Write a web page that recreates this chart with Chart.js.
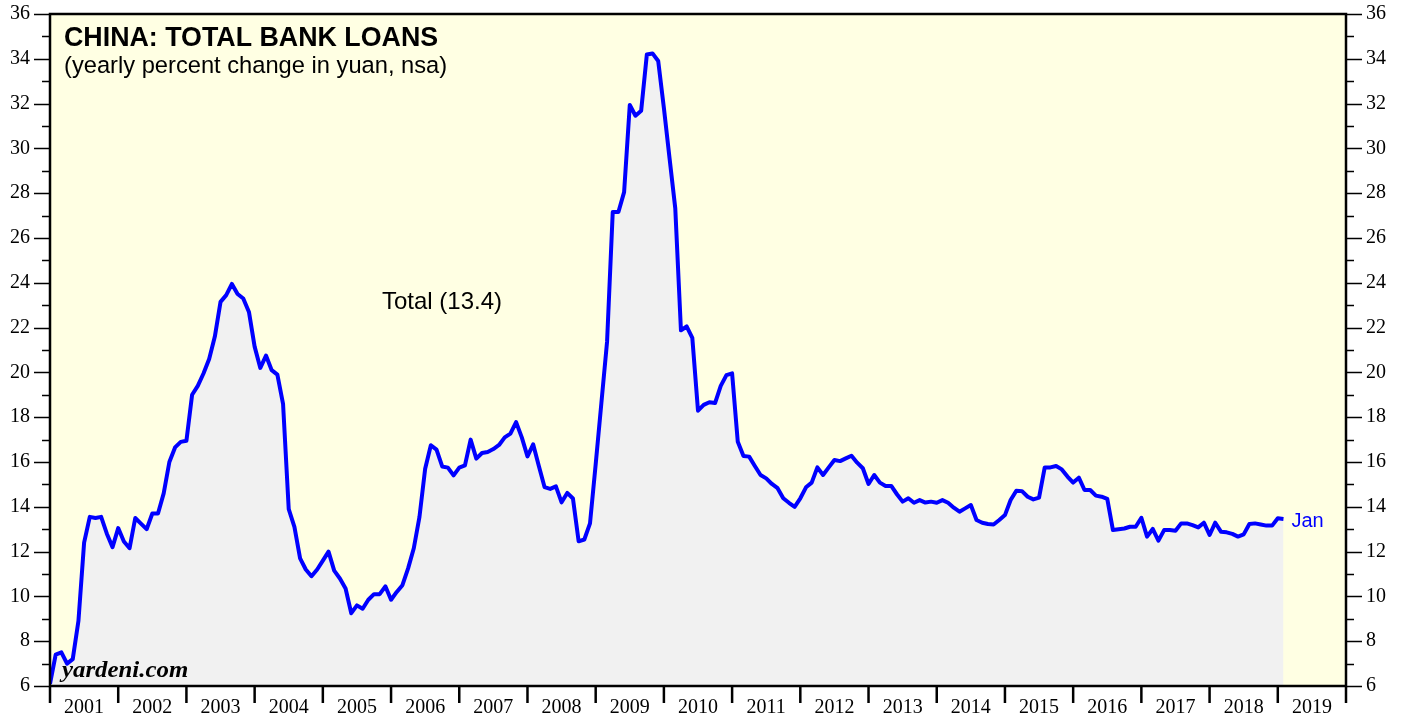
<!DOCTYPE html>
<html>
<head>
<meta charset="utf-8">
<title>China: Total Bank Loans</title>
<script src="https://cdn.jsdelivr.net/npm/chart.js@4.4.1/dist/chart.umd.min.js"></script>
<style>
    html, body { margin: 0; padding: 0; background: #ffffff; }
    #wrap { width: 1405px; height: 717px; position: relative; }
</style>
</head>
<body>
<div id="wrap"><canvas id="loans-chart"></canvas></div>
<script>
// --- DATA ---
const yearLabels = ['2001', '2002', '2003', '2004', '2005', '2006', '2007', '2008', '2009', '2010',
    '2011', '2012', '2013', '2014', '2015', '2016', '2017', '2018', '2019'];

// monthly readings, Dec 2000 .. Jan 2019 (yearly % change in yuan)
const loanGrowth = [
    6.1, 7.4, 7.5, 7.0, 7.2, 8.9, 12.4, 13.55, 13.5, 13.55, 12.8, 12.2,
    13.05, 12.45, 12.15, 13.5, 13.25, 13.0, 13.7, 13.7, 14.6, 16.0, 16.65, 16.9,
    16.95, 19.0, 19.4, 19.95, 20.6, 21.6, 23.15, 23.45, 23.95, 23.5, 23.3, 22.7,
    21.15, 20.2, 20.75, 20.1, 19.9, 18.6, 13.9, 13.1, 11.7, 11.2, 10.9, 11.2,
    11.6, 12.0, 11.15, 10.8, 10.35, 9.25, 9.6, 9.45, 9.85, 10.1, 10.1, 10.45,
    9.85, 10.2, 10.5, 11.25, 12.15, 13.55, 15.7, 16.75, 16.55, 15.8, 15.75, 15.4,
    15.75, 15.85, 17.0, 16.15, 16.4, 16.45, 16.58, 16.76, 17.1, 17.27, 17.78, 17.1,
    16.25, 16.79, 15.82, 14.88, 14.8, 14.91, 14.2, 14.62, 14.37, 12.46, 12.54, 13.26,
    15.9, 18.63, 21.36, 27.16, 27.16, 28.05, 31.94, 31.46, 31.68, 34.19, 34.24, 33.9,
    31.8, 29.55, 27.33, 21.88, 22.05, 21.54, 18.29, 18.55, 18.67, 18.63, 19.4, 19.88,
    19.96, 16.9, 16.27, 16.24, 15.82, 15.42, 15.27, 15.02, 14.83, 14.38, 14.18, 14.0,
    14.38, 14.87, 15.08, 15.76, 15.42, 15.76, 16.09, 16.04, 16.16, 16.28, 15.97, 15.72,
    15.02, 15.42, 15.08, 14.93, 14.93, 14.56, 14.23, 14.38, 14.18, 14.3, 14.19, 14.23,
    14.18, 14.3, 14.18, 13.96, 13.78, 13.93, 14.08, 13.41, 13.29, 13.23, 13.21, 13.41,
    13.63, 14.3, 14.72, 14.7, 14.45, 14.33, 14.41, 15.76, 15.76, 15.82, 15.67, 15.35,
    15.08, 15.3, 14.75, 14.75, 14.5, 14.45, 14.35, 12.96, 13.0, 13.03, 13.11, 13.11,
    13.51, 12.67, 13.01, 12.49, 12.96, 12.96, 12.93, 13.26, 13.26, 13.18, 13.08, 13.29,
    12.74, 13.29, 12.89, 12.86, 12.79, 12.67, 12.77, 13.23, 13.26, 13.21, 13.16, 13.16,
    13.49, 13.46
];

const seriesLabel = 'Total (13.4)';
const lastPointLabel = 'Jan';
const yMin = 6;
const yMax = 36;

// --- STYLE ---
const serif = "'Liberation Serif', 'Times New Roman', serif";
const sans = "'Liberation Sans', Arial, sans-serif";
const monthsPerYear = 12;
const xMax = yearLabels.length * monthsPerYear;

// Background, frame, tick marks and annotations
const framePlugin = {
    id: 'frame',
    beforeDatasetsDraw(chart) {
        const { ctx, chartArea: a } = chart;
        ctx.save();
        ctx.fillStyle = '#ffffe3';
        ctx.fillRect(a.left, a.top, a.right - a.left, a.bottom - a.top);
        ctx.restore();
    },
    afterDatasetsDraw(chart) {
        const { ctx, chartArea: a, scales } = chart;
        const xs = scales.x;
        const ys = scales.y;
        ctx.save();
        ctx.strokeStyle = '#000';

        // y ticks on both sides (long on even values)
        ctx.lineWidth = 1.5;
        for (let v = yMin; v <= yMax; v++) {
            const py = Math.round(ys.getPixelForValue(v)) + 0.5;
            const len = v % 2 === 0 ? 16 : 8;
            ctx.beginPath();
            ctx.moveTo(a.left - len, py);
            ctx.lineTo(a.left, py);
            ctx.moveTo(a.right, py);
            ctx.lineTo(a.right + len, py);
            ctx.stroke();
        }

        // year boundaries under the x axis
        ctx.lineWidth = 2.5;
        for (let m = 0; m <= xMax; m += monthsPerYear) {
            const px = xs.getPixelForValue(m);
            ctx.beginPath();
            ctx.moveTo(px, a.bottom);
            ctx.lineTo(px, a.bottom + 17);
            ctx.stroke();
        }

        // plot frame
        ctx.lineWidth = 2.5;
        ctx.strokeRect(a.left, a.top, a.right - a.left, a.bottom - a.top);

        // title block
        ctx.fillStyle = '#000';
        ctx.textBaseline = 'alphabetic';
        ctx.textAlign = 'left';
        ctx.font = `bold 26.8px ${sans}`;
        ctx.fillText('CHINA: TOTAL BANK LOANS', 64, 46);
        ctx.font = `23.7px ${sans}`;
        ctx.fillText('(yearly percent change in yuan, nsa)', 64, 73);

        // series label
        ctx.font = `24px ${sans}`;
        ctx.fillText(seriesLabel, 382, 309);

        // last point label
        const last = loanGrowth.length - 1;
        ctx.fillStyle = '#0000ff';
        ctx.font = `20px ${sans}`;
        ctx.fillText(lastPointLabel, xs.getPixelForValue(last) + 8, 527);

        // source
        ctx.fillStyle = '#000';
        ctx.font = `italic bold 23px ${serif}`;
        ctx.save();
        ctx.translate(62, 677);
        ctx.scale(1.08, 1);
        ctx.fillText('yardeni.com', 0, 0);
        ctx.restore();

        ctx.restore();
    }
};

const axisFont = { family: serif, size: 20 };

const yAxis = (position, width) => ({
    position,
    min: yMin,
    max: yMax,
    afterFit: (scale) => {
        scale.width = width;
        scale.paddingTop = 0;
        scale.paddingBottom = 0;
    },
    grid: { display: false, drawTicks: false },
    border: { display: false },
    ticks: { stepSize: 2, padding: 20, color: '#000', font: axisFont }
});

new Chart(document.getElementById('loans-chart'), {
    type: 'line',
    data: {
        datasets: [{
            label: 'Total',
            data: loanGrowth.map((v, i) => ({ x: i, y: v })),
            borderColor: '#0000ff',
            borderWidth: 4,
            backgroundColor: '#f1f1f1',
            fill: 'start',
            pointRadius: 0,
            tension: 0,
            borderJoinStyle: 'round'
        }]
    },
    options: {
        responsive: true,
        maintainAspectRatio: false,
        animation: false,
        layout: { padding: { top: 14, left: 0, right: 0, bottom: 0 } },
        plugins: {
            legend: { display: false },
            tooltip: { enabled: false }
        },
        scales: {
            x: {
                type: 'linear',
                min: 0,
                max: xMax,
                afterBuildTicks: (scale) => {
                    scale.ticks = yearLabels.map((_, k) => ({ value: k * monthsPerYear + monthsPerYear / 2 }));
                },
                afterFit: (scale) => {
                    scale.height = 31;
                    scale.paddingLeft = 0;
                    scale.paddingRight = 0;
                },
                grid: { display: false, drawTicks: false },
                border: { display: false },
                ticks: {
                    autoSkip: false,
                    maxRotation: 0,
                    padding: 10,
                    color: '#000',
                    font: axisFont,
                    callback: (value, index) => yearLabels[index]
                }
            },
            y: yAxis('left', 50),
            y2: yAxis('right', 59)
        }
    },
    plugins: [framePlugin]
});
</script>
</body>
</html>
